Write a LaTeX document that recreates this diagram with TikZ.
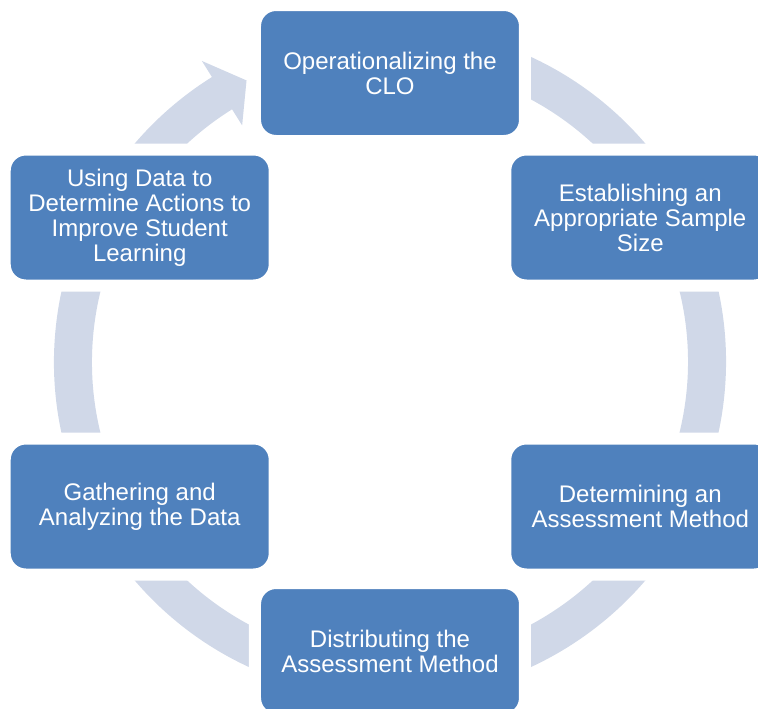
\documentclass[tikz,border=0pt]{standalone}
\usepackage{fontspec}
\setmainfont{Liberation Sans}
\definecolor{stageblue}{HTML}{4F81BD}
\definecolor{ringgray}{HTML}{D0D8E8}
\tikzset{
  stage/.style={rectangle, rounded corners=15.75pt, fill=stageblue,
    draw=white, line width=9pt, text=white, align=center,
    minimum width=202.5pt, minimum height=102pt,
    font=\fontsize{18}{18.75}\selectfont},
}
\begin{document}
\begin{tikzpicture}[x=0.75pt, y=0.75pt]
      \clip (-390,-346) rectangle (368,362);
      % ring, arrow head at the top left
      \fill[ringgray] (80:336) arc[start angle=80, end angle=-238, radius=336]
        -- (-238:355) -- (-243:316) -- (-238:279) -- (-238:298)
        arc[start angle=-238, end angle=80, radius=298] -- cycle;
      \draw
        (90:289) node[stage] (clo){Operationalizing the\\CLO}
        (30:289) node[stage] (sample){Establishing an\\Appropriate Sample\\Size}
        (-30:289) node[stage] (method){Determining an\\Assessment Method}
        (-90:289) node[stage] (distribute){Distributing the\\Assessment Method}
        (-150:289) node[stage] (gather){Gathering and\\Analyzing the Data}
        (150:289) node[stage] (actions){Using Data to\\Determine Actions to\\Improve Student\\Learning};
    \end{tikzpicture}
\end{document}
